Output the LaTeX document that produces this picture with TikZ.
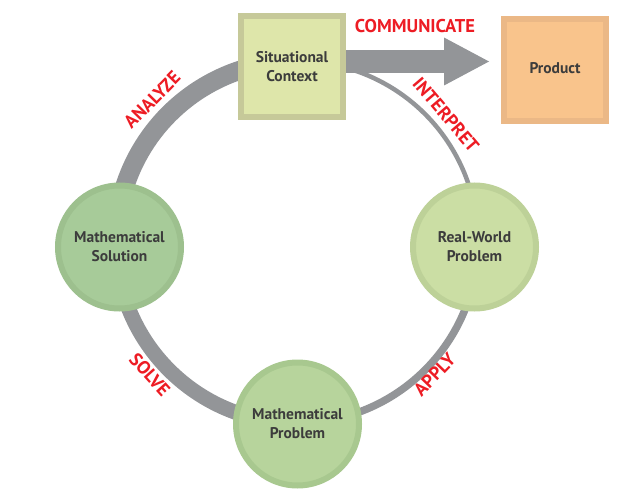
\documentclass[tikz,border=0pt]{standalone}
\usepackage{fontspec}
\setmainfont{PT Sans}
\usetikzlibrary{arrows.meta,calc}
\definecolor{ringgray}{HTML}{939598}
\definecolor{txtgray}{HTML}{3C3C3C}
\definecolor{lblred}{HTML}{ED1C24}
\definecolor{scborder}{HTML}{C6C999}
\definecolor{scfill}{HTML}{DEE6AA}
\definecolor{prborder}{HTML}{EBB886}
\definecolor{prfill}{HTML}{F9C48C}
\definecolor{msborder}{HTML}{9DC08E}
\definecolor{msfill}{HTML}{A7CB99}
\definecolor{rwborder}{HTML}{BDD198}
\definecolor{rwfill}{HTML}{CBDEA4}
\definecolor{mpborder}{HTML}{A8C88F}
\definecolor{mpfill}{HTML}{B7D49C}
\newcommand\nodefnt{\fontsize{15.5}{19}\selectfont\bfseries}
\newcommand\lblfnt{\fontsize{18.5}{18.5}\selectfont\bfseries}
\begin{document}
\begin{tikzpicture}[x=1pt,y=1pt,
  stage/.style={circle, line width=6pt, minimum size=123pt, inner sep=0pt,
    align=center, font=\nodefnt, text=txtgray},
  squarebox/.style={rectangle, line width=6pt, minimum width=102pt,
    minimum height=101pt, inner sep=0pt, align=center, font=\nodefnt, text=txtgray},
  ringseg/.style={draw=ringgray, line cap=butt},
  actlabel/.style={font=\lblfnt, text=lblred, inner sep=0pt},
  commarrow/.style={draw=ringgray, line width=23pt,
    -{Triangle[length=45pt, width=48pt, line width=0pt]}},
]
\useasboundingbox (0,0) rectangle (634,496);
\coordinate (ring) at (297,254);
\coordinate (cstart) at (340,434.5);
\coordinate (ctip) at (489,434.5);

% ring segments
\draw[ringseg, line width=4.5pt] (ring) ++(95:181pt) arc[start angle=95, end angle=-5, radius=181pt];
\draw[ringseg, line width=7.5pt] (ring) ++(0:181pt) arc[start angle=0, end angle=-90, radius=181pt];
\draw[ringseg, line width=15pt] (ring) ++(-90:181pt) arc[start angle=-90, end angle=-180, radius=181pt];
\draw[ringseg, line width=19pt] (ring) ++(180:181pt) arc[start angle=180, end angle=85, radius=181pt];

% communicate arrow
\draw[commarrow] (cstart) -- (ctip);

% nodes
\node[squarebox, draw=scborder, fill=scfill] (sc) at (292,429.5) {Situational\\Context};
\node[squarebox, draw=prborder, fill=prfill, minimum height=102pt] (pr) at (555,426) {\raisebox{4pt}{Product}};
\node[stage, draw=msborder, fill=msfill] (ms) at (119.5,249) {Mathematical\\Solution};
\node[stage, draw=rwborder, fill=rwfill] (rw) at (474.5,249) {Real-World\\Problem};
\node[stage, draw=mpborder, fill=mpfill] (mp) at (297.5,72) {Mathematical\\Problem};

% labels
\node[actlabel] (comm) at (415,469.5) {COMMUNICATE};
\node[actlabel, rotate=45.6] (analyze) at ($(ring)+(135.6:203pt)$) {ANALYZE};
\node[actlabel, rotate=-49.5] (interpret) at ($(ring)+(40.5:196pt)$) {INTERPRET};
\node[actlabel, rotate=-48] (solve) at ($(ring)+(222:198pt)$) {SOLVE};
\node[actlabel, rotate=46] (apply) at ($(ring)+(-44:191pt)$) {APPLY};
\end{tikzpicture}
\end{document}
